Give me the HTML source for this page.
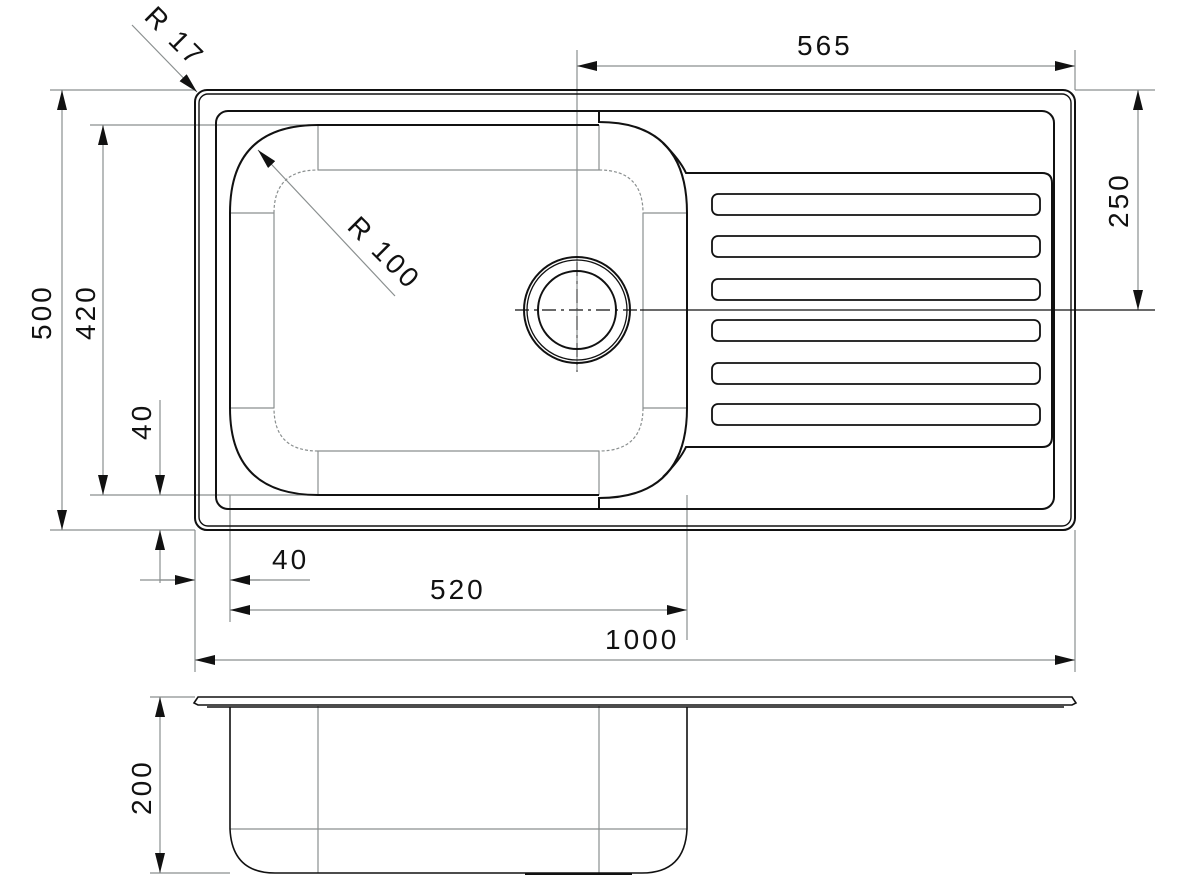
<!DOCTYPE html>
<html><head><meta charset="utf-8"><style>
html,body{margin:0;padding:0;background:#fff;}
svg{display:block;}
text{font-family:"Liberation Sans",sans-serif;font-size:28px;fill:#111;letter-spacing:3px;}
</style></head><body>
<svg width="1184" height="892" viewBox="0 0 1184 892" xmlns="http://www.w3.org/2000/svg">
<defs>
<marker id="a" viewBox="0 0 20 10" refX="20" refY="5" markerWidth="20" markerHeight="10" markerUnits="userSpaceOnUse" orient="auto-start-reverse"><path d="M0,0 L20,5 L0,10 z" fill="#111"/></marker>
</defs>
<g stroke="#8a8f8f" stroke-width="1.2" fill="none">
<!-- extension lines -->
<line x1="577" y1="50" x2="577" y2="250"/>
<line x1="1075" y1="50" x2="1075" y2="90"/>
<line x1="1075" y1="90" x2="1155" y2="90"/>
<line x1="50" y1="90" x2="195" y2="90"/>
<line x1="50" y1="530" x2="195" y2="530"/>
<line x1="90" y1="125" x2="318" y2="125"/>
<line x1="90" y1="495" x2="318" y2="495"/>
<line x1="195" y1="530" x2="195" y2="672"/>
<line x1="230" y1="495" x2="230" y2="622"/>
<line x1="687" y1="495" x2="687" y2="640"/>
<line x1="1075" y1="530" x2="1075" y2="672"/>
<line x1="140" y1="580" x2="175" y2="580"/>
<line x1="250" y1="580" x2="310" y2="580"/>
<line x1="150" y1="697" x2="195" y2="697"/>
<line x1="150" y1="873" x2="230" y2="873"/>
<!-- dims -->
<line x1="577" y1="66" x2="1075" y2="66" marker-start="url(#a)" marker-end="url(#a)"/>
<line x1="1138" y1="90" x2="1138" y2="310" marker-start="url(#a)" marker-end="url(#a)"/>
<line x1="62" y1="90" x2="62" y2="530" marker-start="url(#a)" marker-end="url(#a)"/>
<line x1="103" y1="125" x2="103" y2="495" marker-start="url(#a)" marker-end="url(#a)"/>
<line x1="160" y1="400" x2="160" y2="495" marker-end="url(#a)"/>
<line x1="160" y1="583" x2="160" y2="530" marker-end="url(#a)"/>
<line x1="160" y1="580" x2="195" y2="580" marker-end="url(#a)"/>
<line x1="260" y1="580" x2="230" y2="580" marker-end="url(#a)"/>
<line x1="230" y1="610" x2="687" y2="610" marker-start="url(#a)" marker-end="url(#a)"/>
<line x1="195" y1="660" x2="1075" y2="660" marker-start="url(#a)" marker-end="url(#a)"/>
<line x1="160" y1="697" x2="160" y2="873" marker-start="url(#a)" marker-end="url(#a)"/>
<line x1="132" y1="25" x2="197" y2="92" marker-end="url(#a)"/>
<line x1="395" y1="296" x2="258" y2="150" marker-end="url(#a)"/>
<!-- bowl grey construction -->
<line x1="318" y1="125" x2="318" y2="170"/>
<line x1="599" y1="125" x2="599" y2="170"/>
<line x1="318" y1="451" x2="318" y2="495"/>
<line x1="599" y1="451" x2="599" y2="495"/>
<line x1="230" y1="213" x2="274" y2="213"/>
<line x1="230" y1="408" x2="274" y2="408"/>
<line x1="643" y1="213" x2="687" y2="213"/>
<line x1="643" y1="408" x2="687" y2="408"/>
<line x1="318" y1="170" x2="599" y2="170"/>
<line x1="318" y1="451" x2="599" y2="451"/>
<line x1="274" y1="213" x2="274" y2="408"/>
<line x1="643" y1="213" x2="643" y2="408"/>
<path d="M274,213 Q274,170 318,170 M599,170 Q643,170 643,213 M643,408 Q643,451 599,451 M318,451 Q274,451 274,408" stroke-dasharray="3,2"/>
<!-- side view grey -->
<line x1="318" y1="706" x2="318" y2="873"/>
<line x1="599" y1="706" x2="599" y2="873"/>
<line x1="230" y1="829" x2="687" y2="829"/>
<line x1="577" y1="250" x2="577" y2="372"/>
</g>
<!-- centerlines -->
<g stroke="#111" stroke-width="1.2" fill="none">
<line x1="515" y1="310" x2="640" y2="310" stroke-dasharray="14,5,3,5"/>
<line x1="640" y1="310" x2="1155" y2="310"/>
<line x1="577" y1="262" x2="577" y2="372" stroke-dasharray="14,5,3,5" stroke="#555"/>
</g>
<g stroke="#111" stroke-width="2" fill="none">
<!-- outer rim -->
<rect x="195" y="90" width="880" height="440" rx="12"/>
<rect x="199" y="94" width="872" height="432" rx="9" stroke-width="1.4"/>
<!-- inner deck -->
<rect x="216" y="111" width="838" height="398" rx="12"/>
<!-- bowl -->
<path d="M318,125 L599,125 M599,495 L318,495 Q230,495 230,408 L230,213 Q230,125 318,125"/>
<path d="M599,111 L599,122 Q687,122 687,213 L687,408 Q687,498 599,498 L599,509"/>
<path d="M663,143 Q680,160 686,173 L1042,173 Q1052,173 1052,183 L1052,437 Q1052,447 1042,447 L686,447 Q680,460 663,477" />
<!-- drain -->
<circle cx="577" cy="310" r="53"/>
<circle cx="577" cy="310" r="50" stroke-width="1.3"/>
<circle cx="577" cy="310" r="39"/>
<!-- slots -->
<g stroke-width="1.8">
<rect x="712" y="194" width="328" height="21" rx="6"/>
<rect x="712" y="236" width="328" height="21" rx="6"/>
<rect x="712" y="279" width="328" height="21" rx="6"/>
<rect x="712" y="320" width="328" height="21" rx="6"/>
<rect x="712" y="363" width="328" height="21" rx="6"/>
<rect x="712" y="404" width="328" height="21" rx="6"/>
</g>
<!-- side view -->
<path d="M198,697 L1072,697 L1076,703 L1072,705 L198,705 L194,703 Z" stroke-width="1.6"/>
<line x1="207" y1="707" x2="1064" y2="707" stroke-width="1.5"/>
<path d="M230,707 L230,829 Q232,873 275,873 L642,873 Q685,873 687,829 L687,707" stroke-width="1.6"/>
<line x1="525" y1="874" x2="632" y2="874" stroke-width="2"/>
</g>
<!-- texts -->
<text x="797" y="55">565</text>
<text x="605" y="649">1000</text>
<text x="430" y="599">520</text>
<text x="272" y="569">40</text>
<text transform="translate(1128,228) rotate(-90)">250</text>
<text transform="translate(51,340) rotate(-90)">500</text>
<text transform="translate(95,340) rotate(-90)">420</text>
<text transform="translate(151,440) rotate(-90)">40</text>
<text transform="translate(151,815) rotate(-90)">200</text>
<text transform="translate(143,18) rotate(45)">R 17</text>
<text transform="translate(346,228) rotate(45)">R 100</text>
</svg>
</body></html>
